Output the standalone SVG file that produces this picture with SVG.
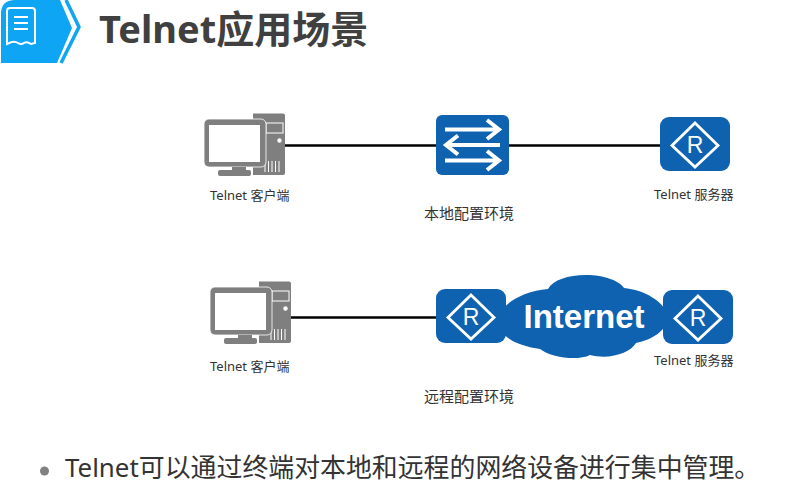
<svg xmlns="http://www.w3.org/2000/svg" width="801" height="502" viewBox="0 0 801 502">
<style>
.t{font-family:"Noto Sans","Noto Sans CJK SC",sans-serif}
.s{font-size:13px;fill:#333}
.m{font-size:15px;fill:#333}
.blue{fill:#0f62b0}
.wl{fill:none;stroke:#fff}
.conn{stroke:#000;stroke-width:2.5;fill:none}
.r{font-family:"Liberation Sans",sans-serif;font-size:23px;fill:#fff;text-anchor:middle}
</style>
<defs>
<g id="pc">
<path d="M253 113.500H283a2 2 0 0 1 2 2V173a2 2 0 0 1-2 2H253Z" fill="#7f7f80"/>
<rect x="266" y="123" width="17" height="10" fill="none" stroke="#fff" stroke-width="1"/>
<circle cx="279.500" cy="140.500" r="2.200" fill="#fff"/>
<path d="M265 161v11M268.500 161v11M272 161v11M275.500 161v11M279 161v11" stroke="#fff" stroke-width="1"/>
<rect x="204" y="119" width="62" height="48" rx="5" fill="#7f7f80" stroke="#fff" stroke-width=".8"/>
<rect x="209" y="125" width="51" height="37" fill="#fff"/>
<path d="M232 167h14v3h-14Z" fill="#7f7f80"/>
<rect x="218" y="170" width="33" height="6" rx="2" fill="#7f7f80"/>
</g>
<g id="router">
<rect x="-35" y="-27" width="70" height="54" rx="9" class="blue"/>
<path d="M0-21 23 1.500 0 23-23 1.500Z" class="wl" stroke-width="2.800"/>
</g>
</defs>

<g id="header">
<path d="M1 63V14Q1 0 15 0H60L72 28 57 63Z" fill="#0ea5f5"/>
<path d="M66 0 79 27 61 63" fill="none" stroke="#0ea5f5" stroke-width="3.500"/>
<path d="M7 41V11Q7 8 10 8H32Q35 8 35 11V43L31 44Q27 41 24 43T18 43 12 42 7 44Z" class="wl" stroke-width="2"/>
<path d="M14 17H28M14 23H28M14 29H28" class="wl" stroke-width="1.800"/>
<text class="t" x="99" y="43" font-size="38" font-weight="700" fill="#404040">Telnet应用场景</text>
</g>

<g id="connectors">
<path class="conn" d="M285 145.500H436"/>
<path class="conn" d="M509 145.500H660"/>
<path class="conn" d="M291 317.500H436"/>
</g>

<g id="client-local">
<use href="#pc"/>
<text class="t s" x="210" y="200">Telnet 客户端</text>
</g>

<g id="switch-local">
<rect x="436" y="115" width="73" height="60" rx="6" class="blue"/>
<path d="M445 129.500H499M487 120 499 129.500 487 139M500 145H446M458 135.500 446 145 458 154.500M445 160.500H499M487 151 499 160.500 487 170" class="wl" stroke-width="4"/>
</g>

<g id="server-local">
<use href="#router" transform="translate(695 144)"/>
<text class="r" x="695" y="153">R</text>
<text class="t s" x="654" y="199">Telnet 服务器</text>
</g>

<text class="t m" x="424" y="219">本地配置环境</text>

<g id="client-remote">
<use href="#pc" transform="translate(6 168)"/>
<text class="t s" x="210" y="371">Telnet 客户端</text>
</g>

<g id="internet">
<path class="blue" d="M500 315C503 303 524 291 548 289C553 280 568 275 586 275C604 275 620 281 624 288C644 290 664 301 668 316C668 330 652 340 636 343C630 353 610 360 590 355C578 361 552 358 540 349C526 347 510 342 504 334C500 328 499 322 500 315Z"/>
<text x="584" y="328" text-anchor="middle" font-family="Liberation Sans, sans-serif" font-weight="700" font-size="33" fill="#fff">Internet</text>
</g>

<g id="router-remote">
<use href="#router" transform="translate(471 316)"/>
<text class="r" x="471" y="325">R</text>
</g>

<g id="server-remote">
<use href="#router" transform="translate(698 317)"/>
<text class="r" x="698" y="326">R</text>
<text class="t s" x="654" y="365">Telnet 服务器</text>
</g>

<text class="t m" x="424" y="402">远程配置环境</text>

<g id="bullet">
<circle cx="44.500" cy="471" r="4.500" fill="#808080"/>
<text class="t" x="65" y="477" font-size="25.900" fill="#333">Telnet可以通过终端对本地和远程的网络设备进行集中管理。</text>
</g>
</svg>
